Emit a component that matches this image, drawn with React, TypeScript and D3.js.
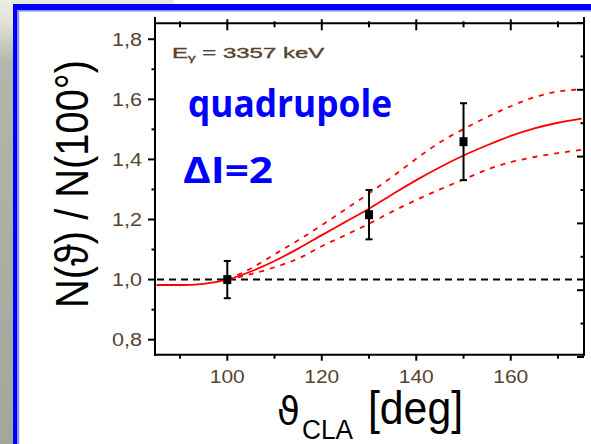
import React from 'react';
import * as d3 from 'd3';

// ---- axis ticks ----
const xMajorTicks = [100, 120, 140, 160];
const xMinorTicks = [90, 110, 130, 150, 170];
const yMajorTicks = [0.8, 1.0, 1.2, 1.4, 1.6, 1.8];
const yMinorTicks = [0.9, 1.1, 1.3, 1.5, 1.7];
const rightTickSteps = [0, 1, 2, 3, 4, 5, 6, 7, 8, 9, 10];

// ---- fitted angular distribution ----
const fitAngles = [85, 90, 95, 100, 105, 110, 115, 120, 125, 130, 135, 140, 145, 150, 155, 160, 165, 170, 175];
const fitCentral = [0.982, 0.982, 0.986, 1.0, 1.027, 1.062, 1.103, 1.148, 1.192, 1.236, 1.284, 1.331, 1.374, 1.413, 1.447, 1.478, 1.503, 1.522, 1.536];
const boundAngles = [100, 105, 110, 115, 120, 125, 130, 135, 140, 145, 150, 155, 160, 165, 170, 175];
const fitUpper = [1.0, 1.037, 1.084, 1.131, 1.181, 1.234, 1.287, 1.343, 1.402, 1.457, 1.501, 1.541, 1.577, 1.607, 1.626, 1.633];
const fitLower = [1.0, 1.018, 1.041, 1.07, 1.111, 1.148, 1.186, 1.227, 1.265, 1.3, 1.333, 1.366, 1.391, 1.408, 1.421, 1.432];

// ---- measured points ----
const dataAngles = [100, 130, 150];
const dataValues = [1.0, 1.216, 1.459];
const dataErrors = [0.062, 0.082, 0.128];

const W = 591;
const H = 444;
const L = 155, R = 584, T = 23.3, B = 354.7;

const fmt = (v: number) => v.toFixed(1).replace('.', ',');

export default function App() {
  const x = d3.scaleLinear().domain([84.7, 175.5]).range([L, R]);
  const y = d3.scaleLinear().domain([0.75, 1.853]).range([B, T]);
  const yRight = d3.scaleLinear().domain([0, 10]).range([357, 23]);

  const line = d3
    .line<[number, number]>()
    .x((d) => x(d[0]))
    .y((d) => y(d[1]))
    .curve(d3.curveMonotoneX);

  const central = line(fitAngles.map((a, i) => [a, fitCentral[i]]) as [number, number][]) || '';
  const upper = line(boundAngles.map((a, i) => [a, fitUpper[i]]) as [number, number][]) || '';
  const lower = line(boundAngles.map((a, i) => [a, fitLower[i]]) as [number, number][]) || '';

  const tickColor = '#574330';
  const sans = 'Liberation Sans, Arial, sans-serif';

  return (
    <svg
      width={W}
      height={H}
      style={{ position: 'absolute', left: 0, top: 0, display: 'block' }}
      xmlns="http://www.w3.org/2000/svg"
    >
      <defs>
        <linearGradient id="strip" x1="0" y1="0" x2="0" y2="1">
          <stop offset="0" stopColor="#eceee4" />
          <stop offset="0.05" stopColor="#e2e4d8" />
          <stop offset="0.14" stopColor="#b3b6aa" />
          <stop offset="1" stopColor="#a3a69a" />
        </linearGradient>
        <clipPath id="plot">
          <rect x={L} y={T} width={R - L} height={B - T} />
        </clipPath>
      </defs>

      {/* page background */}
      <rect x={0} y={0} width={W} height={H} fill="#ffffff" />
      <rect x={0} y={0} width={174} height={5} fill="#e9ebe0" />
      <rect x={0} y={0} width={13} height={H} fill="url(#strip)" />
      {/* blue frame */}
      <rect x={13} y={4} width={W - 13} height={6} fill="#0000ff" />
      <rect x={13} y={10} width={W - 13} height={1.6} fill="#8c8cff" />
      <rect x={13} y={4} width={4.4} height={H - 4} fill="#0000ff" />
      <rect x={17.4} y={10} width={1.8} height={H - 10} fill="#8c8cff" />

      {/* reference line at 1.0 */}
      <line
        x1={L + 2}
        x2={R}
        y1={y(1.0)}
        y2={y(1.0)}
        stroke="#000"
        strokeWidth={2}
        strokeDasharray="7 5"
      />

      {/* fits */}
      <g clipPath="url(#plot)" fill="none" stroke="#ff0000">
        <path d={upper} strokeWidth={1.8} strokeDasharray="5 6" />
        <path d={lower} strokeWidth={1.8} strokeDasharray="5 6" />
        <path d={central} strokeWidth={1.8} />
      </g>

      {/* data points */}
      <g stroke="#000" strokeWidth={2}>
        {dataAngles.map((a, i) => {
          const cx = x(a);
          const yt = y(dataValues[i] + dataErrors[i]);
          const yb = y(dataValues[i] - dataErrors[i]);
          return (
            <g key={a}>
              <line x1={cx} x2={cx} y1={yt} y2={yb} />
              <line x1={cx - 3.5} x2={cx + 3.5} y1={yt} y2={yt} />
              <line x1={cx - 3.5} x2={cx + 3.5} y1={yb} y2={yb} />
              <rect x={cx - 4} y={y(dataValues[i]) - 4.5} width={8} height={9} fill="#000" stroke="none" />
            </g>
          );
        })}
      </g>

      {/* axes frame */}
      <g stroke="#000" strokeWidth={2} fill="none">
        <line x1={L} x2={L} y1={17} y2={B + 1} />
        <line x1={R} x2={R} y1={17} y2={B + 1} />
        <line x1={L - 1} x2={R + 1} y1={T} y2={T} />
        <line x1={L - 1} x2={R + 1} y1={B} y2={B} />
        {xMajorTicks.map((t) => (
          <g key={'xM' + t}>
            <line x1={x(t)} x2={x(t)} y1={B} y2={B + 6} />
            <line x1={x(t)} x2={x(t)} y1={T - 4} y2={T + 7} />
          </g>
        ))}
        {xMinorTicks.map((t) => (
          <g key={'xm' + t}>
            <line x1={x(t)} x2={x(t)} y1={B} y2={B + 4} />
            <line x1={x(t)} x2={x(t)} y1={T - 2} y2={T + 4} />
          </g>
        ))}
        {yMajorTicks.map((t) => (
          <line key={'yM' + t} x1={L - 7} x2={L} y1={y(t)} y2={y(t)} />
        ))}
        {yMinorTicks.map((t) => (
          <line key={'ym' + t} x1={L - 3.5} x2={L} y1={y(t)} y2={y(t)} />
        ))}
        {rightTickSteps.map((k) => (
          <line
            key={'r' + k}
            x1={R - (k % 2 === 0 ? 7 : 3.5)}
            x2={R}
            y1={yRight(k)}
            y2={yRight(k)}
          />
        ))}
      </g>

      {/* tick labels */}
      <g fill={tickColor} fontFamily={sans} fontSize={18}>
        {xMajorTicks.map((t) => (
          <text
            key={'xl' + t}
            x={x(t)}
            y={383}
            textAnchor="middle"
            textLength={35}
            lengthAdjust="spacingAndGlyphs"
          >
            {String(t)}
          </text>
        ))}
        {yMajorTicks.map((t) => (
          <text
            key={'yl' + t}
            x={142}
            y={y(t) + 6.5}
            textAnchor="end"
            textLength={30}
            lengthAdjust="spacingAndGlyphs"
          >
            {fmt(t)}
          </text>
        ))}
      </g>

      {/* energy label */}
      <g transform="translate(172,58.3) scale(1.6,1)">
        <text x={0} y={0} fill={tickColor} fontFamily={sans} fontSize={15} stroke={tickColor} strokeWidth={0.35}>
          E
          <tspan fontSize={9.5} dy={3}>γ</tspan>
          <tspan dy={-3}> = 3357 keV</tspan>
        </text>
      </g>

      {/* blue annotations */}
      <text
        x={188}
        y={117}
        fill="#0000ff"
        fontFamily="Open Sans, sans-serif"
        fontWeight={700}
        fontSize={37}
        textLength={204}
        lengthAdjust="spacingAndGlyphs"
      >
        quadrupole
      </text>
      <text
        x={183}
        y={183}
        fill="#0000ff"
        fontFamily="Open Sans, sans-serif"
        fontWeight={700}
        fontSize={36}
        textLength={90}
        lengthAdjust="spacingAndGlyphs"
      >
        ΔI=2
      </text>

      {/* y axis title */}
      <text
        transform="translate(88,184) rotate(-90)"
        textAnchor="middle"
        fill="#000"
        fontFamily={sans}
        fontSize={46}
        textLength={248}
        lengthAdjust="spacingAndGlyphs"
      >
        N(ϑ) / N(100°)
      </text>

      {/* x axis title */}
      <text x={277} y={423.5} fill="#000" fontFamily="DejaVu Sans, sans-serif" fontSize={37}>
        ϑ
      </text>
      <text
        x={302}
        y={439}
        fill="#000"
        fontFamily={sans}
        fontSize={27}
        textLength={51}
        lengthAdjust="spacingAndGlyphs"
      >
        CLA
      </text>
      <text
        x={368}
        y={423.5}
        fill="#000"
        fontFamily={sans}
        fontSize={46}
        textLength={95}
        lengthAdjust="spacingAndGlyphs"
      >
        [deg]
      </text>
    </svg>
  );
}
